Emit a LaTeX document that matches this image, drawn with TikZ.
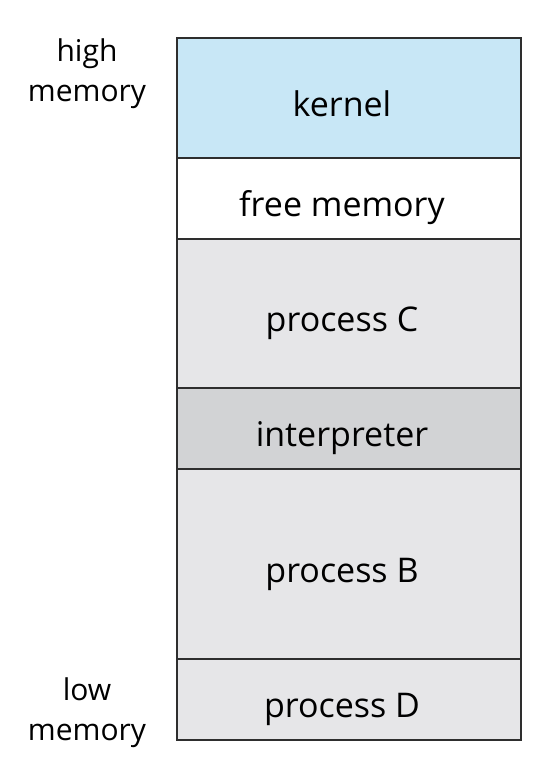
\documentclass[tikz,border=0pt]{standalone}
\usepackage{fontspec}
\setmainfont{Open Sans}
\usetikzlibrary{positioning}

\definecolor{kernelblue}{HTML}{C8E7F6}
\definecolor{procgray}{HTML}{E6E6E8}
\definecolor{interpgray}{HTML}{D2D3D5}
\definecolor{edgegray}{HTML}{2E2E2E}

\tikzset{
  band/.style={draw=edgegray, line width=2pt, minimum width=344pt, inner sep=0pt},
  bandtext/.style={anchor=base, inner sep=0pt, font=\fontsize{34}{36}\selectfont},
  side/.style={align=center, font=\fontsize{30}{40}\selectfont}
}

\begin{document}
\begin{tikzpicture}[x=1pt, y=-1pt]
\useasboundingbox (0,0) rectangle (556,784);

% memory bands, top to bottom
\foreach \name/\top/\bot/\col/\txt in {kern/38/158/kernelblue/kernel,
    free/158/239/white/free memory,
    procC/239/388/procgray/process C,
    interp/388/469/interpgray/interpreter,
    procB/469/659/procgray/process B,
    procD/659/740/procgray/process D} {
    \node (\name) [band, fill=\col, minimum height={\bot-\top}] at (349,{(\top+\bot)/2}) {};
    \node (\name-txt) [bandtext] at ([xshift=-7pt, yshift=-18pt]\name.center) {\txt};
}

\node (high) [side] at (87,74) {high\\memory};
\node (low) [side] at (87,713) {low\\memory};
\end{tikzpicture}
\end{document}
